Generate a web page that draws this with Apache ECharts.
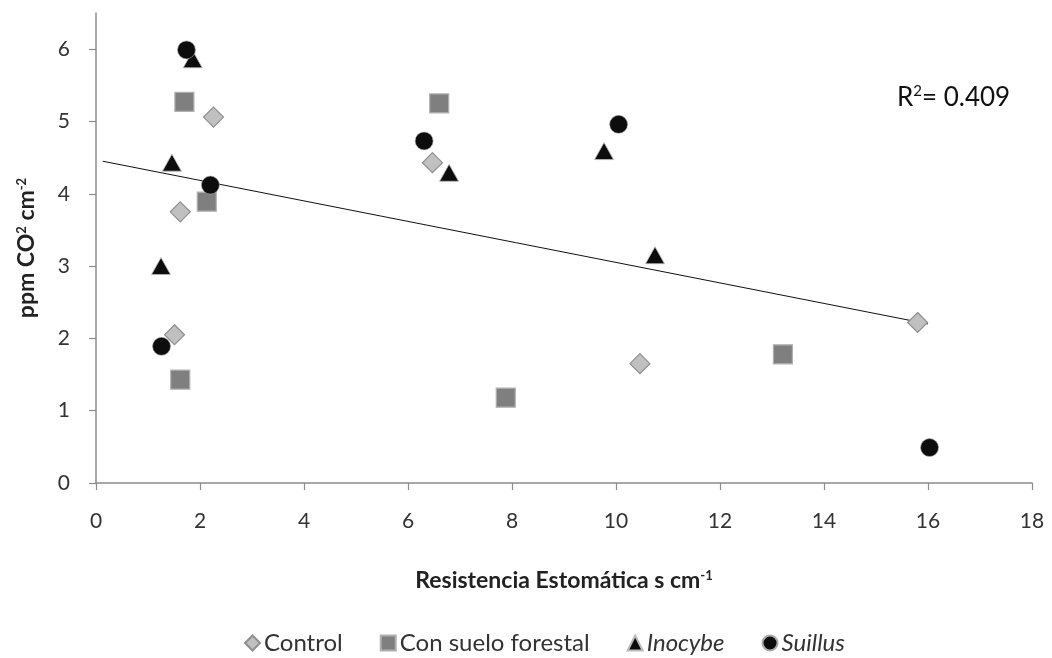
<!DOCTYPE html>
<html><head><meta charset="utf-8">
<script src="https://cdn.jsdelivr.net/npm/echarts@6/dist/echarts.min.js"></script>
<style>html,body{margin:0;padding:0;background:#fff}#c{width:1052px;height:658px}</style>
</head><body><div id="c"></div>
<script>
// Data
const controlData = [[1.51,2.05],[1.62,3.75],[2.26,5.06],[6.47,4.43],[10.46,1.65],[15.80,2.22]];
const sueloData   = [[1.62,1.43],[1.70,5.27],[2.13,3.89],[6.60,5.25],[7.88,1.18],[13.21,1.78]];
const inocybeData = [[1.25,3.00],[1.46,4.43],[1.86,5.86],[6.79,4.29],[9.77,4.59],[10.75,3.15]];
const suillusData = [[1.26,1.89],[1.74,5.99],[2.20,4.12],[6.31,4.73],[10.05,4.96],[16.03,0.49]];
const trendData   = [[0.13,4.45],[16.0,2.20]];
const yTicks = [0,1,2,3,4,5,6];
const xTicks = [0,2,4,6,8,10,12,14,16,18];
const seriesNames = ['Control','Con suelo forestal','Inocybe','Suillus'];
const r2Label = '0.409';

const font = 'Lato, "Open Sans", sans-serif';
const chart = echarts.init(document.getElementById('c'));
const axisCol = '#8c8c8c';
const nameRich = {
  t:{fontSize:23,fontWeight:'bold',color:'#222',fontFamily:font},
  s:{fontSize:13,fontWeight:'bold',color:'#222',verticalAlign:'top',padding:[0,0,10,0],fontFamily:font}
};
chart.setOption({
  animation:false,
  backgroundColor:'#fff',
  textStyle:{fontFamily:font},
  grid:{left:96,right:20,top:13,bottom:175,containLabel:false},
  xAxis:{type:'value',min:0,max:18,interval:2,
    axisLine:{show:true,onZero:false,lineStyle:{color:axisCol,width:1.5}},
    axisTick:{show:true,length:7,lineStyle:{color:axisCol,width:1.2}},
    splitLine:{show:false},
    axisLabel:{customValues:xTicks,fontSize:21,color:'#333',margin:28,fontFamily:font},
    name:'{t|Resistencia Estomática s cm}{s|-1}',nameLocation:'middle',nameGap:86,
    nameTextStyle:{rich:nameRich}
  },
  yAxis:{type:'value',min:0,max:6.5,
    axisLine:{show:true,lineStyle:{color:axisCol,width:1.5}},
    axisTick:{show:true,length:7,customValues:yTicks,lineStyle:{color:axisCol,width:1.2}},
    splitLine:{show:false},
    axisLabel:{customValues:yTicks,fontSize:21,color:'#333',margin:26,fontFamily:font},
    name:'{t|ppm CO}{s|2}{t| cm}{s|-2}',nameLocation:'middle',nameGap:58,nameRotate:90,
    nameTextStyle:{rich:nameRich}
  },
  legend:{left:239,top:626,itemGap:37,itemWidth:15,itemHeight:15,
    data:[
      {name:seriesNames[0],icon:'diamond'},
      {name:seriesNames[1],icon:'rect'},
      {name:seriesNames[2],icon:'triangle',textStyle:{fontStyle:'italic'}},
      {name:seriesNames[3],icon:'circle',textStyle:{fontStyle:'italic'}}
    ],
    textStyle:{fontSize:24,color:'#333',fontFamily:font,padding:[0,0,0,-1]}},
  graphic:[{type:'text',left:897,top:84,style:{text:'{a|R}{s|2}{a|= '+r2Label+'}',rich:{a:{fontSize:26,fill:'#111',fontFamily:font},s:{fontSize:15,fill:'#111',verticalAlign:'top',padding:[0,0,12,0],fontFamily:font}}}}],
  series:[
    {name:'trend',type:'line',data:trendData,symbol:'none',lineStyle:{color:'#111',width:1},silent:true,z:1},
    {name:seriesNames[0],type:'scatter',data:controlData,symbol:'diamond',symbolSize:[20,20],
      itemStyle:{color:'#c0c0c0',borderColor:'#8f8f8f',borderWidth:1.2,opacity:1},z:3},
    {name:seriesNames[1],type:'scatter',data:sueloData,symbol:'rect',symbolSize:19,
      itemStyle:{color:'#7f7f7f',borderColor:'#b0b0b0',borderWidth:1.2,opacity:1},z:3},
    {name:seriesNames[2],type:'scatter',data:inocybeData,symbol:'triangle',symbolSize:[19,17],
      itemStyle:{color:'#0d0d0d',borderColor:'#bbbbbb',borderWidth:0.8,opacity:1},z:3},
    {name:seriesNames[3],type:'scatter',data:suillusData,symbol:'circle',symbolSize:18,
      itemStyle:{color:'#0d0d0d',borderColor:'#aaaaaa',borderWidth:0.6,opacity:1},z:3}
  ]
});
</script></body></html>
